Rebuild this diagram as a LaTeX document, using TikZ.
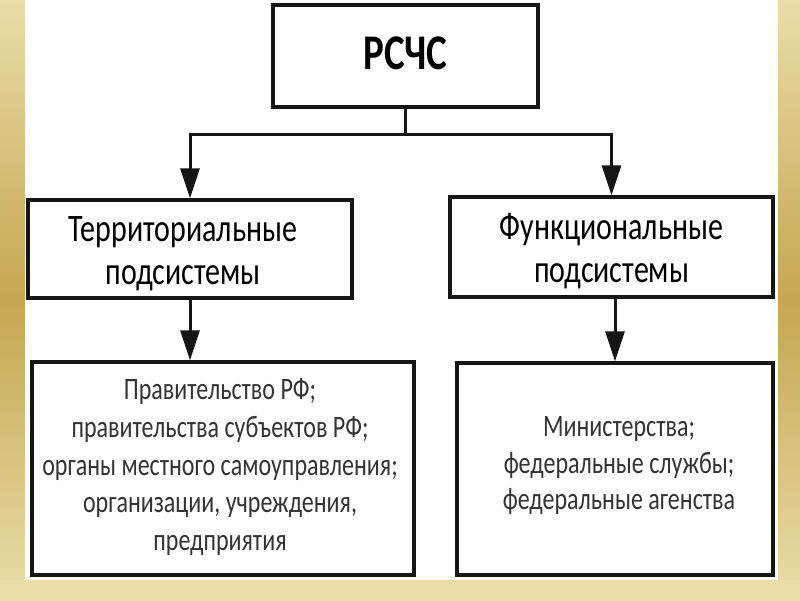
\documentclass[tikz,border=0pt]{standalone}
\usepackage{fontspec}
\setmainfont{Carlito}
\usetikzlibrary{arrows.meta}
\definecolor{goldlight}{HTML}{EADDA8}
\definecolor{golddark}{HTML}{C6A650}
\definecolor{linecol}{HTML}{151515}
\definecolor{textgray}{HTML}{333333}
\tikzset{
  x=1pt, y=-1pt,
  box/.style={draw=linecol, line width=3.5pt, fill=white, inner sep=0pt, align=center},
  conn/.style={draw=linecol, line width=3pt},
  arrowconn/.style={conn, -{Triangle[length=30pt,width=19pt]}},
}
\newcommand{\stretchtext}[2]{\scalebox{1}[1.3]{#1\begin{tabular}{@{}c@{}}#2\end{tabular}}}
\newcommand{\shiftbox}[3]{\raisebox{#2}[\height][\depth]{\hspace*{#1}#3\hspace*{-#1}}}
\begin{document}
\begin{tikzpicture}
\useasboundingbox (0,0) rectangle (800,600);
% background border
\shade[top color=goldlight, bottom color=goldlight, middle color=golddark] (0,0) rectangle (800,600);
\fill[goldlight] (0,580) rectangle (800,600);
\fill[white] (25,0) rectangle (778,580);

% boxes
\node[box, minimum width=265pt, minimum height=102pt] (top) at (405.5,56)
  {\shiftbox{0pt}{3pt}{\scalebox{1}[1.28]{\fontsize{39}{44}\selectfont\bfseries РСЧС}}};
\node[box, minimum width=324pt, minimum height=98pt] (lmid) at (190,249)
  {\shiftbox{-7pt}{-5pt}{\stretchtext{\fontsize{30}{33}\selectfont}{Территориальные\\подсистемы}}};
\node[box, minimum width=323pt, minimum height=100pt] (rmid) at (611.5,247)
  {\shiftbox{0pt}{-5pt}{\stretchtext{\fontsize{30}{33}\selectfont}{Функциональные\\подсистемы}}};
\node[box, minimum width=382pt, minimum height=213pt, text=textgray] (lbot) at (223,468.5)
  {\shiftbox{-3pt}{1pt}{\stretchtext{\fontsize{24}{29}\selectfont}{Правительство РФ;\\правительства субъектов РФ;\\органы местного самоуправления;\\организации, учреждения,\\предприятия}}};
\node[box, minimum width=316pt, minimum height=212pt, text=textgray] (rbot) at (615,469)
  {\shiftbox{4pt}{3pt}{\stretchtext{\fontsize{24}{28}\selectfont}{Министерства;\\федеральные службы;\\федеральные агенства}}};

% connectors
\draw[conn] (top.south) -- ++(0,26) coordinate (j);
\draw[arrowconn] (j) -| (lmid.north);
\draw[arrowconn] (j) -| (rmid.north);
\draw[arrowconn] (lmid.south) -- (lmid.south |- lbot.north);
\draw[arrowconn] (rbot.north |- rmid.south) -- (rbot.north);
\end{tikzpicture}
\end{document}
